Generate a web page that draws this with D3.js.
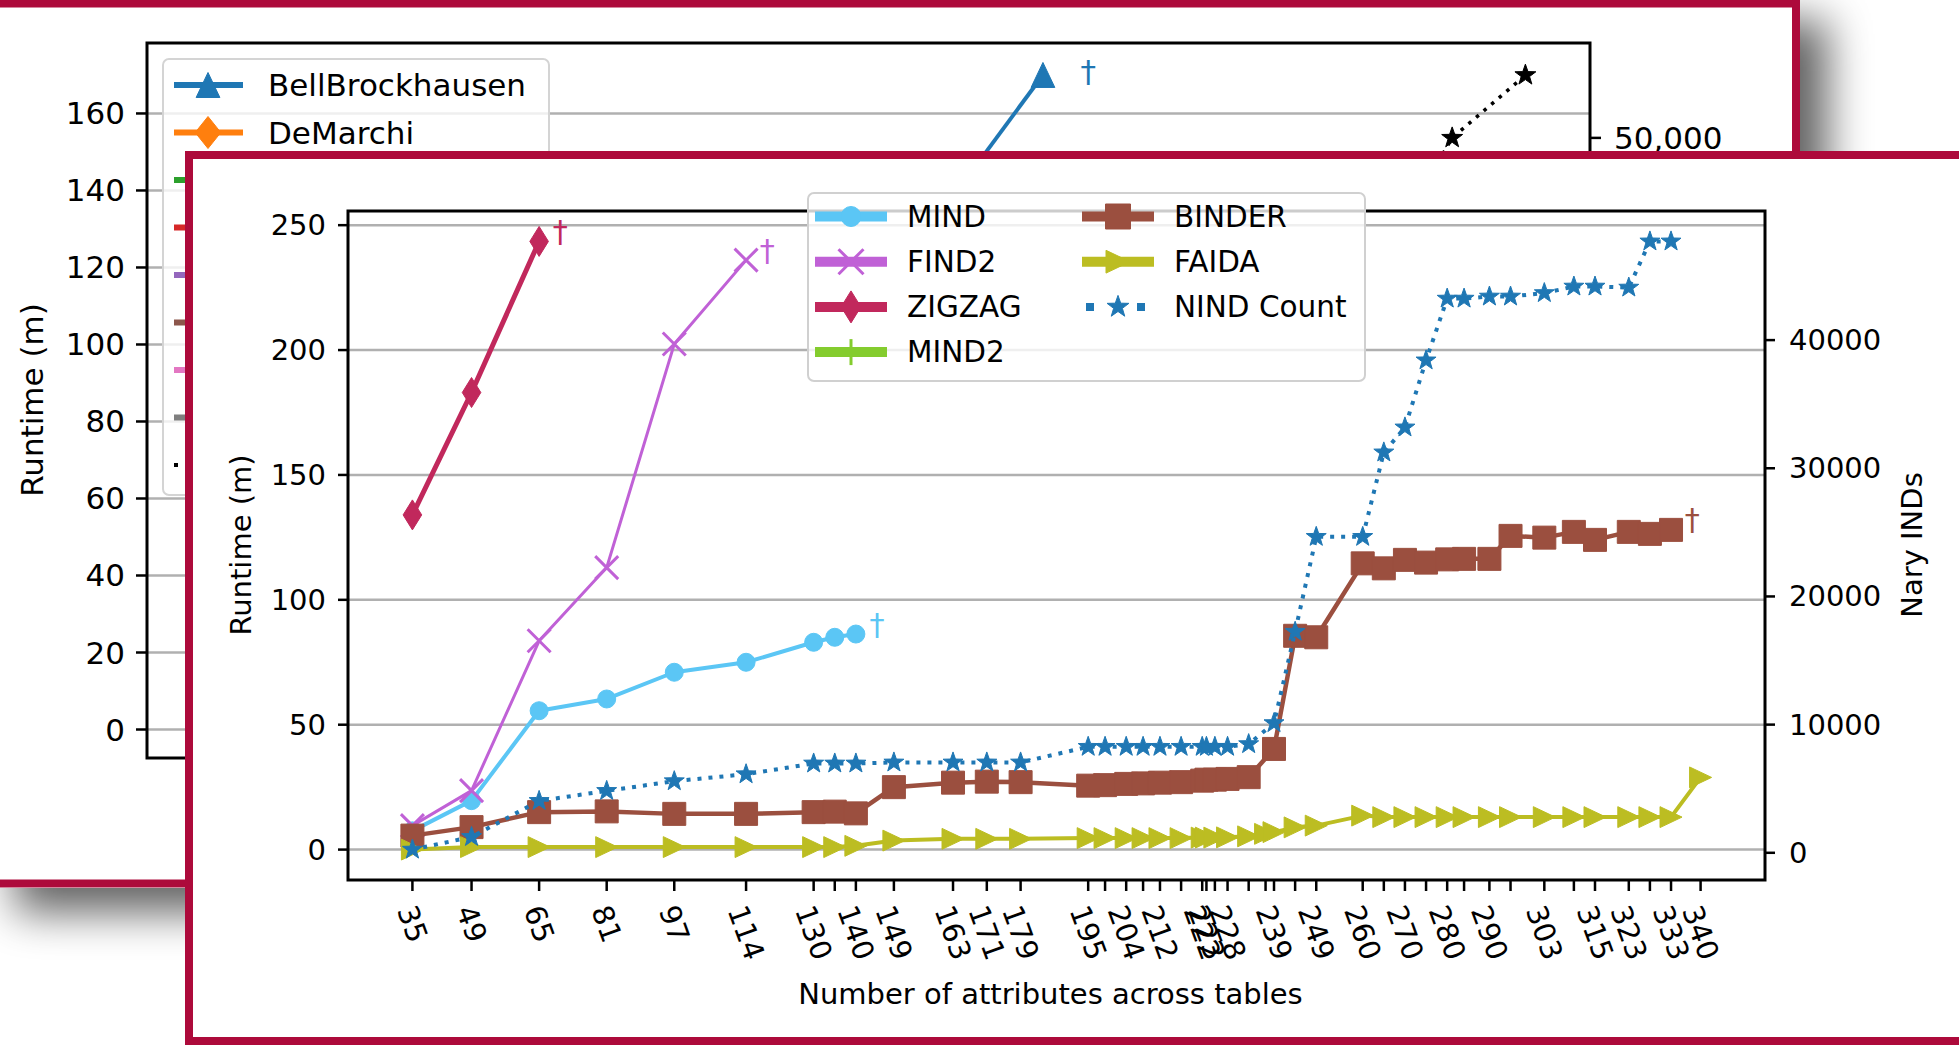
<!DOCTYPE html>
<html>
<head>
<meta charset="utf-8">
<title>Runtime and Nary IND count by number of attributes</title>
<script src="https://cdn.jsdelivr.net/npm/d3@7/dist/d3.min.js"></script>
<style>
  html, body { margin: 0; padding: 0; background: #fff; }
  svg { display: block; font-family: "DejaVu Sans", sans-serif; }
</style>
</head>
<body>
<svg id="chart" width="1959" height="1045"></svg>
<script>
// ---------- Front sheet data ----------
// Number of attributes across tables (one tick per measured dataset)
const attributes = [35, 49, 65, 81, 97, 114, 130, 135, 140, 149, 163, 171, 179,
  195, 199, 204, 208, 212, 217, 222, 223, 225, 228, 233, 237, 239, 244, 249,
  260, 265, 270, 275, 280, 284, 290, 295, 303, 310, 315, 323, 328, 333, 340];
// Ticks that carry a printed label
const labelledAttributes = [35, 49, 65, 81, 97, 114, 130, 140, 149, 163, 171, 179,
  195, 204, 212, 222, 223, 228, 239, 249, 260, 270, 280, 290, 303, 315, 323, 333, 340];

// Runtime in minutes (null = algorithm not run at that size)
const mindRuntime = [7.5, 19.6, 55.6, 60.3, 71, 75, 83, 85, 86.3];
const find2Runtime = [9.6, 23.6, 83.6, 112.9, 202.4, 236];
const zigzagRuntime = [134, 183, 243.5];
const mind2Runtime = [];
const binderRuntime = [5.6, 9, 15, 15.3, 14.3, 14.3, 15, 15.2, 14.5, 25, 26.8, 27.2, 27,
  25.6, 25.8, 26.3, 26.5, 26.8, 27, 27.6, 28, 28, 28.3, 29, null, 40.3, 85.6, 85,
  114.6, 112.6, 116, 114.9, 116.2, 116.4, 116.4, 125.6, 124.9, 127.2, 124, 127.2, 126.4, 128, null];
const faidaRuntime = [0, 1, 1, 1, 1, 1, 1, 1, 1.5, 3.6, 4.3, 4.3, 4.3,
  4.6, 4.6, 4.6, 4.6, 4.6, 4.6, 4.8, 4.8, 4.8, 4.9, 5.3, 6.3, 7, 8.9, 9.6,
  13.6, 13, 13, 13, 13, 13, 13, 13, 13, 13, 13, 13, 13, 13, 28.9];
// Count of n-ary INDs (right axis)
const nindCount = [250, 1235, 4050, 4830, 5590, 6130, 6970, 6970, 6970, 7050, 7050, 7050, 7050,
  8270, 8270, 8270, 8270, 8270, 8270, 8270, 8270, 8270, 8270, 8480, null, 10120, 17250, 24650,
  24650, 31240, 33190, 38420, 43240, 43240, 43400, 43400, 43670, 44180, 44180, 44100, 47700, 47700, null];

const runtimeTicks = [0, 50, 100, 150, 200, 250];
const nindTicks = [0, 10000, 20000, 30000, 40000];

// ---------- Back sheet data ----------
const backRuntimeTicks = [0, 20, 40, 60, 80, 100, 120, 140, 160];
const backCountTicks = [0, 10000, 20000, 30000, 40000, 50000];
const bellAttributes = [195, 228];
const bellRuntime = [120, 170];
const backCountAttributes = [315, 323, 340];
const backCount = [45000, 50000, 55300];
const backLegendNames = ["BellBrockhausen", "DeMarchi"];

// ---------- helpers ----------
const svg = d3.select("#chart");
const BORDER = "#ad0a3b";
const GRID = "#b0b0b0";
const INK = "#000";

function marker(type, s) {
  const r = s / 2;
  switch (type) {
    case "circle": return `M${r},0A${r},${r} 0 1,1 ${-r},0A${r},${r} 0 1,1 ${r},0Z`;
    case "square": return `M${-r},${-r}h${s}v${s}h${-s}Z`;
    case "thinDiamond": return `M0,${-r}L${r * 0.62},0L0,${r}L${-r * 0.62},0Z`;
    case "diamond": return `M0,${-r}L${r * 0.8},0L0,${r}L${-r * 0.8},0Z`;
    case "triRight": return `M${r},0L${-r},${-r * 0.95}L${-r},${r * 0.95}Z`;
    case "triUp": return `M0,${-r}L${r * 0.95},${r}L${-r * 0.95},${r}Z`;
    case "x": return `M${-r},${-r}L${r},${r}M${-r},${r}L${r},${-r}`;
    case "vline": return `M0,${-r}V${r}`;
    case "star": {
      const p = [];
      for (let i = 0; i < 10; i++) {
        const rad = i % 2 === 0 ? r : r * 0.4;
        const a = -Math.PI / 2 + i * Math.PI / 5;
        p.push([rad * Math.cos(a), rad * Math.sin(a)]);
      }
      return "M" + p.map(d => d.join(",")).join("L") + "Z";
    }
  }
  return "";
}
const strokedOnly = t => t === "x" || t === "vline";
const pad = ([a, b]) => [a - 0.05 * (b - a), b + 0.05 * (b - a)];
const pairs = (xs, ys) => xs.map((x, i) => [x, ys[i]]).filter(d => d[1] != null && d[1] !== undefined);

function drawSeries(g, data, xs, ys, st) {
  const line = d3.line().x(d => xs(d[0])).y(d => ys(d[1]));
  g.append("path").attr("d", line(data)).attr("fill", "none")
    .attr("stroke", st.color).attr("stroke-width", st.lw)
    .attr("stroke-dasharray", st.dash || null)
    .attr("stroke-linejoin", "round");
  g.selectAll(null).data(data).enter().append("path")
    .attr("transform", d => `translate(${xs(d[0])},${ys(d[1])})`)
    .attr("d", marker(st.marker, st.size))
    .attr("fill", strokedOnly(st.marker) ? "none" : st.color)
    .attr("stroke", st.color)
    .attr("stroke-width", strokedOnly(st.marker) ? 3 : 1);
}

// ---------- shadow behind the back sheet ----------
const defs = svg.append("defs");
defs.append("filter").attr("id", "soft").attr("x", "-20%").attr("y", "-20%")
  .attr("width", "140%").attr("height", "140%")
  .append("feGaussianBlur").attr("stdDeviation", 22);
defs.append("clipPath").attr("id", "backClip")
  .append("rect").attr("x", -30).attr("y", 0).attr("width", 1830).attr("height", 888);

svg.append("rect").attr("x", 15).attr("y", 20).attr("width", 1812).attr("height", 892)
  .attr("fill", "#000").attr("opacity", 0.62).attr("filter", "url(#soft)");

// ---------- back sheet ----------
const back = svg.append("g").attr("clip-path", "url(#backClip)");
back.append("rect").attr("x", -30).attr("y", 0).attr("width", 1830).attr("height", 888).attr("fill", "#fff");

const bx = d3.scaleLinear().domain([20, 355]).range([147, 1590]);
const byL = d3.scaleLinear().domain([-7.4, 178.3]).range([758, 43]);
const byR = d3.scaleLinear().domain([-2410, 58020]).range([758, 43]);
const frontTop = 152;

back.selectAll(null).data(backRuntimeTicks).enter().append("line")
  .attr("x1", 147).attr("x2", 1590).attr("y1", d => byL(d)).attr("y2", d => byL(d))
  .attr("stroke", GRID).attr("stroke-width", 2.5);

drawSeries(back, pairs(bellAttributes, bellRuntime), bx, byL,
  { color: "#1f77b4", lw: 4, marker: "triUp", size: 25 });
drawSeries(back, pairs(backCountAttributes, backCount), bx, byR,
  { color: "#000", lw: 3.5, dash: "3.5,6.5", marker: "star", size: 22 });
back.append("text").attr("x", bx(238.5)).attr("y", byL(171))
  .attr("text-anchor", "middle").attr("dominant-baseline", "central")
  .attr("font-size", 31).attr("fill", "#1f77b4").text("\u2020");

// back axes frame
back.append("rect").attr("x", 147).attr("y", 43).attr("width", 1590 - 147).attr("height", 758 - 43)
  .attr("fill", "none").attr("stroke", INK).attr("stroke-width", 3);
const bl = back.selectAll(null).data(backRuntimeTicks).enter().append("g")
  .attr("transform", d => `translate(147,${byL(d)})`);
bl.append("line").attr("x1", -11).attr("x2", 0).attr("stroke", INK).attr("stroke-width", 2.5);
bl.append("text").attr("x", -22).attr("text-anchor", "end").attr("dominant-baseline", "central")
  .attr("font-size", 31).attr("fill", INK).text(d => d);
const br = back.selectAll(null).data(backCountTicks.filter(t => byR(t) < frontTop)).enter().append("g")
  .attr("transform", d => `translate(1590,${byR(d)})`);
br.append("line").attr("x1", 0).attr("x2", 11).attr("stroke", INK).attr("stroke-width", 2.5);
br.append("text").attr("x", 24).attr("dominant-baseline", "central")
  .attr("font-size", 31).attr("fill", INK).text(d => d3.format(",")(d));
back.append("text").attr("transform", "translate(43,400) rotate(-90)")
  .attr("text-anchor", "middle").attr("font-size", 31).attr("fill", INK).text("Runtime (m)");

// back legend
const backLegend = [
  { color: "#1f77b4", marker: "triUp", size: 25, lw: 6 },
  { color: "#ff7f0e", marker: "diamond", size: 32, lw: 6 },
  { color: "#2ca02c", lw: 6 }, { color: "#d62728", lw: 6 }, { color: "#9467bd", lw: 6 },
  { color: "#8c564b", lw: 6 }, { color: "#e377c2", lw: 6 }, { color: "#7f7f7f", lw: 6 },
  { color: "#000", lw: 4, dash: "4,9" }
];
back.append("rect").attr("x", 163).attr("y", 59).attr("width", 386).attr("height", 436).attr("rx", 6)
  .attr("fill", "#fff").attr("fill-opacity", 0.8).attr("stroke", "#d4d4d4").attr("stroke-width", 2);
backLegend.forEach((e, i) => {
  const y = 85 + i * 47.5;
  back.append("line").attr("x1", 174).attr("x2", 243).attr("y1", y).attr("y2", y)
    .attr("stroke", e.color).attr("stroke-width", e.lw).attr("stroke-dasharray", e.dash || null);
  if (e.marker) {
    back.append("path").attr("transform", `translate(208,${y})`).attr("d", marker(e.marker, e.size))
      .attr("fill", e.color).attr("stroke", e.color);
  }
  if (backLegendNames[i]) {
    back.append("text").attr("x", 268).attr("y", y).attr("dominant-baseline", "central")
      .attr("font-size", 31).attr("fill", INK).text(backLegendNames[i]);
  }
});
// back sheet border
back.append("rect").attr("x", -30).attr("y", 3.5).attr("width", 1826).attr("height", 880)
  .attr("fill", "none").attr("stroke", BORDER).attr("stroke-width", 8);

// ---------- front sheet ----------
const front = svg.append("g");
front.append("rect").attr("x", 189).attr("y", 155).attr("width", 1900).attr("height", 886)
  .attr("fill", "#fff").attr("stroke", BORDER).attr("stroke-width", 8);

const L = 348, R = 1765, T = 211, B = 880;
const x = d3.scaleLinear().domain(pad(d3.extent(attributes))).range([L, R]);
const allRuntime = [].concat(mindRuntime, find2Runtime, zigzagRuntime, mind2Runtime, binderRuntime, faidaRuntime)
  .filter(v => v != null);
const yL = d3.scaleLinear().domain(pad(d3.extent(allRuntime))).range([B, T]);
const yR = d3.scaleLinear().domain(pad(d3.extent(nindCount.filter(v => v != null)))).range([B, T]);

const plot = front.append("g");
plot.selectAll(null).data(runtimeTicks).enter().append("line")
  .attr("x1", L).attr("x2", R).attr("y1", d => yL(d)).attr("y2", d => yL(d))
  .attr("stroke", GRID).attr("stroke-width", 2.5);

const series = [
  { name: "MIND", values: mindRuntime, color: "#5bc6f5", lw: 4, marker: "circle", size: 18, failed: true },
  { name: "FIND2", values: find2Runtime, color: "#c061d6", lw: 3, marker: "x", size: 23, failed: true },
  { name: "ZIGZAG", values: zigzagRuntime, color: "#c1285c", lw: 5, marker: "thinDiamond", size: 30, failed: true },
  { name: "MIND2", values: mind2Runtime, color: "#84cc2e", lw: 4, marker: "vline", size: 24 },
  { name: "BINDER", values: binderRuntime, color: "#9b4f3f", lw: 4.5, marker: "square", size: 23, failed: true },
  { name: "FAIDA", values: faidaRuntime, color: "#bcbd22", lw: 4, marker: "triRight", size: 22 }
];
const nindStyle = { name: "NIND Count", color: "#1f77b4", lw: 4, dash: "4,7", marker: "star", size: 21 };

series.forEach(s => {
  const d = pairs(attributes, s.values);
  if (d.length) drawSeries(plot, d, x, yL, s);
});

// frame, ticks and labels
plot.append("rect").attr("x", L).attr("y", T).attr("width", R - L).attr("height", B - T)
  .attr("fill", "none").attr("stroke", INK).attr("stroke-width", 3);
const lt = plot.selectAll(null).data(runtimeTicks).enter().append("g")
  .attr("transform", d => `translate(${L},${yL(d)})`);
lt.append("line").attr("x1", -10).attr("x2", 0).attr("stroke", INK).attr("stroke-width", 2.5);
lt.append("text").attr("x", -22).attr("text-anchor", "end").attr("dominant-baseline", "central")
  .attr("font-size", 29).attr("fill", INK).text(d => d);
const rt = plot.selectAll(null).data(nindTicks).enter().append("g")
  .attr("transform", d => `translate(${R},${yR(d)})`);
rt.append("line").attr("x1", 0).attr("x2", 10).attr("stroke", INK).attr("stroke-width", 2.5);
rt.append("text").attr("x", 24).attr("dominant-baseline", "central")
  .attr("font-size", 29).attr("fill", INK).text(d => d);

plot.selectAll(null).data(attributes).enter().append("line")
  .attr("x1", d => x(d)).attr("x2", d => x(d)).attr("y1", B).attr("y2", B + 11)
  .attr("stroke", INK).attr("stroke-width", 2.5);
const ROT = 70, FS = 29, rad = ROT * Math.PI / 180;
plot.selectAll(null).data(labelledAttributes).enter().append("text")
  .attr("transform", d => {
    const len = String(d).length * 0.636 * FS, h = 0.73 * FS;
    const cy = B + 23 + (len * Math.sin(rad) + h * Math.cos(rad)) / 2;
    return `translate(${x(d)},${cy}) rotate(${ROT})`;
  })
  .attr("text-anchor", "middle").attr("dominant-baseline", "central")
  .attr("font-size", FS).attr("fill", INK).text(d => d);

plot.append("text").attr("x", (L + R) / 2 - 6).attr("y", 1004).attr("text-anchor", "middle")
  .attr("font-size", 29).attr("fill", INK).text("Number of attributes across tables");
plot.append("text").attr("transform", "translate(251,545) rotate(-90)").attr("text-anchor", "middle")
  .attr("font-size", 29).attr("fill", INK).text("Runtime (m)");
plot.append("text").attr("transform", "translate(1922,545) rotate(-90)").attr("text-anchor", "middle")
  .attr("font-size", 29).attr("fill", INK).text("Nary INDs");

// count of n-ary INDs on the twin axis
drawSeries(plot, pairs(attributes, nindCount), x, yR, nindStyle);

// dagger after the last completed run of each algorithm that hit the limit
series.filter(s => s.failed).forEach(s => {
  const d = pairs(attributes, s.values);
  const last = d[d.length - 1];
  plot.append("text").attr("x", x(last[0] + 5)).attr("y", yL(last[1] + 4))
    .attr("text-anchor", "middle").attr("dominant-baseline", "central")
    .attr("font-size", 30).attr("fill", s.color).text("\u2020");
});

// legend
const lg = plot.append("g");
lg.append("rect").attr("x", 808).attr("y", 193).attr("width", 557).attr("height", 188).attr("rx", 6)
  .attr("fill", "#fff").attr("fill-opacity", 0.8).attr("stroke", "#d0d0d0").attr("stroke-width", 2);
const legendItems = series.concat([nindStyle]);
legendItems.forEach((s, i) => {
  const col = i < 4 ? 0 : 1, row = i < 4 ? i : i - 4;
  const x0 = col ? 1082 : 815, y = 216.5 + row * 45.2, xm = x0 + 36;
  const g = lg.append("g");
  if (s.dash) {
    g.append("line").attr("x1", x0).attr("x2", x0 + 72).attr("y1", y).attr("y2", y)
      .attr("stroke", s.color).attr("stroke-width", 8).attr("stroke-dasharray", "8,43")
      .attr("stroke-dashoffset", -4);
  } else {
    g.append("line").attr("x1", x0).attr("x2", x0 + 72).attr("y1", y).attr("y2", y)
      .attr("stroke", s.color).attr("stroke-width", 10);
  }
  g.append("path").attr("transform", `translate(${xm},${y})`).attr("d", marker(s.marker, s.size + 2))
    .attr("fill", strokedOnly(s.marker) ? "none" : s.color).attr("stroke", s.color)
    .attr("stroke-width", strokedOnly(s.marker) ? 3 : 1);
  g.append("text").attr("x", col ? 1174 : 907).attr("y", y).attr("dominant-baseline", "central")
    .attr("font-size", 29.5).attr("fill", INK).text(s.name);
});
</script>
</body>
</html>
